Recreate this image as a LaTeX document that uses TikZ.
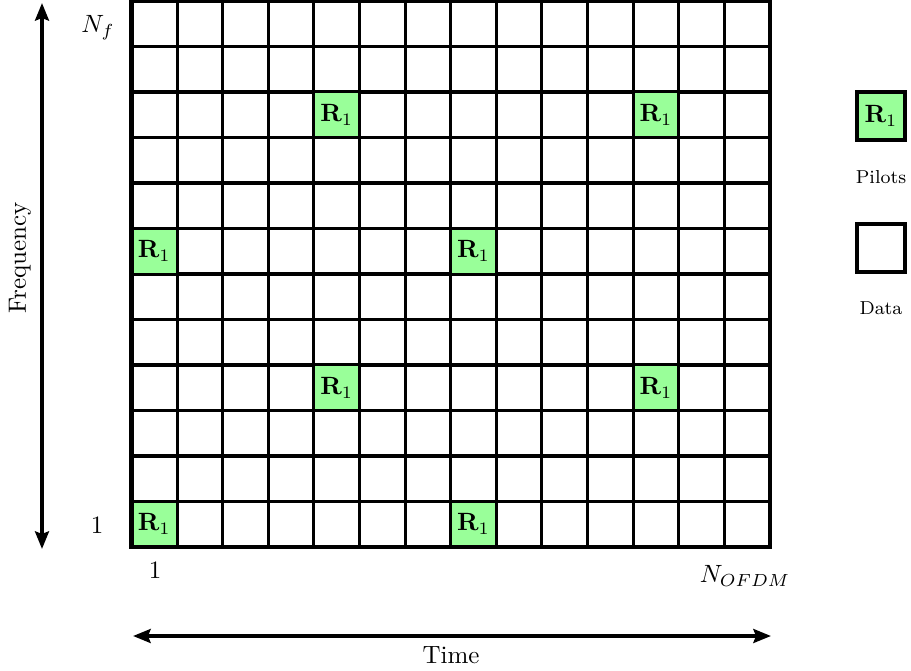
\documentclass[tikz,border=0pt]{standalone}
\usetikzlibrary{arrows.meta}
\begin{document}
\begin{tikzpicture}[x=0.4pt,y=-0.4pt,
  cell/.style={draw=black,line width=1.2pt,minimum size=18.24pt,inner sep=0pt,outer sep=0pt},
  pilot/.style={cell,fill=green!40},
  legbox/.style={draw=black,line width=1.6pt,minimum size=19.2pt,inner sep=0pt},
  tip/.tip={Stealth[length=7pt,width=5.5pt,inset=1pt]},
  axis/.style={line width=1.6pt,tip-tip},
  small/.style={font=\fontsize{7.5}{9}\selectfont}
]
\useasboundingbox (0,0) rectangle (911,671);
% grid cells
\foreach \i in {1,...,14}{
  \foreach \j in {1,...,12}{
    \node[cell] (c-\i-\j) at ({131.5+45.6*(\i-0.5)},{1+45.5*(12.5-\j)}) {};
  }
}
% pilots
\foreach \i/\j in {1/1,8/1,5/4,12/4,1/7,8/7,5/10,12/10}{
  \node[pilot] (p-\i-\j) at (c-\i-\j) {$\mathbf{R}_1$};
}
% outer border
\draw[line width=1.9pt] (c-1-1.south west) rectangle (c-14-12.north east);
% axis labels
\node (nf) at (98,28) {$N_f$};
\node (onef) at (97,525) {$1$};
\node (onet) at (155,570) {$1$};
\node (nofdm) at (745,576) {$N_{OFDM}$};
\node (time) at (451,655) {Time};
\node[rotate=90] (freq) at (20,258) {Frequency};
% arrows
\coordinate (ftop) at (42,3);
\coordinate (fbot) at (42,549);
\coordinate (tleft) at (133,636);
\coordinate (tright) at (771,636);
\draw[axis] (fbot) -- (ftop);
\draw[axis] (tleft) -- (tright);
% legend
\node[legbox,fill=green!40] (lp) at (881,116) {$\mathbf{R}_1$};
\node[small] (lpt) at (881,177) {Pilots};
\node[legbox] (ld) at (881,248) {};
\node[small] (ldt) at (881,308) {Data};
\end{tikzpicture}
\end{document}
